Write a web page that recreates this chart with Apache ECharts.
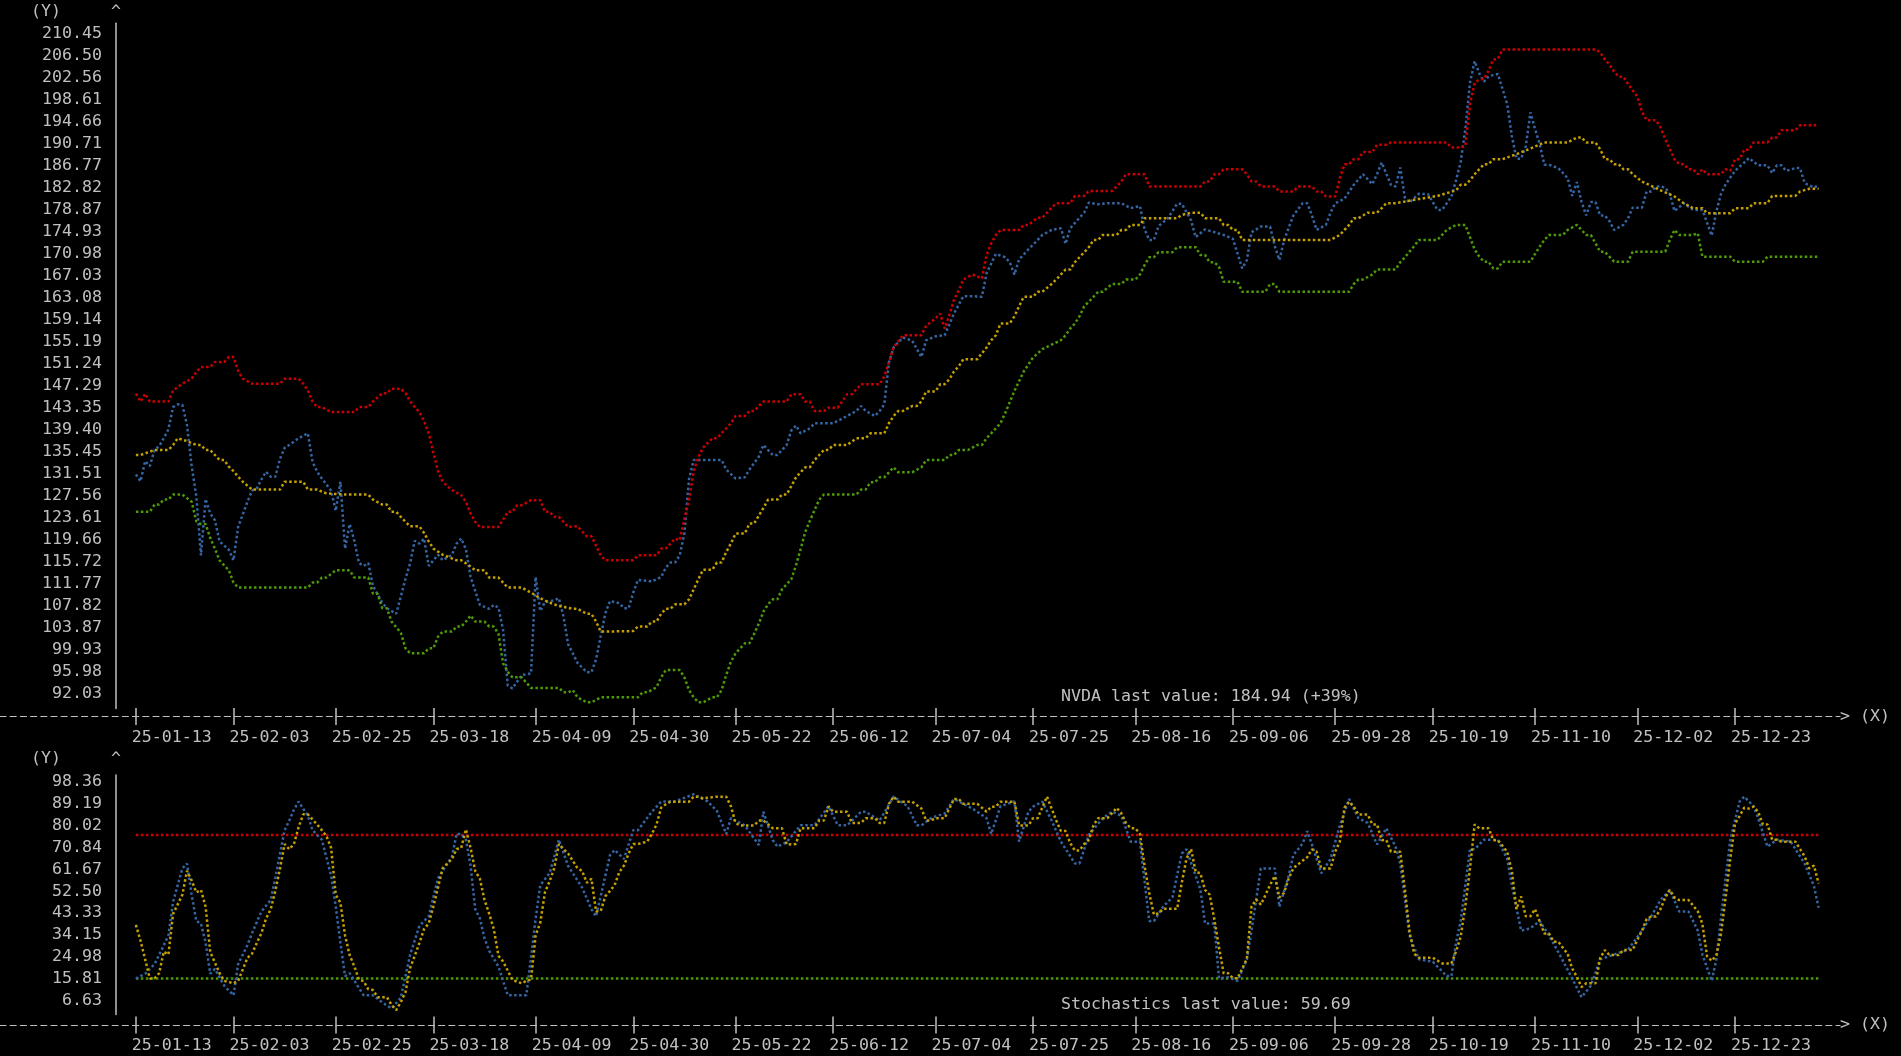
<!DOCTYPE html>
<html>
<head>
<meta charset="utf-8">
<script src="https://cdn.jsdelivr.net/npm/echarts@6/dist/echarts.min.js"></script>
<style>
html,body{margin:0;padding:0;background:#000;}
#chart{width:1901px;height:1056px;}
</style>
</head>
<body>
<div id="chart"></div>
<script>
// ---------------- DATA ----------------
// x values are calendar days counted from START_DATE
const START_DATE = '2025-01-13';
const TICKER = 'NVDA';
const LAST_PRICE = 184.94;
const PCT_CHANGE = 39;
const LAST_STOCH = 59.69;

const xTickLabels = ['25-01-13','25-02-03','25-02-25','25-03-18','25-04-09','25-04-30','25-05-22','25-06-12','25-07-04','25-07-25','25-08-16','25-09-06','25-09-28','25-10-19','25-11-10','25-12-02','25-12-23'];
const yTicksPrice = [210.45,206.50,202.56,198.61,194.66,190.71,186.77,182.82,178.87,174.93,170.98,167.03,163.08,159.14,155.19,151.24,147.29,143.35,139.40,135.45,131.51,127.56,123.61,119.66,115.72,111.77,107.82,103.87,99.93,95.98,92.03];
const yTicksStoch = [98.36,89.19,80.02,70.84,61.67,52.50,43.33,34.15,24.98,15.81,6.63];

const price = [[0,133.0],[1,131.8],[2,135.4],[3,134.5],[4,137.4],[5,138.1],[6,139.5],[7,141.1],[8,145.1],[9,145.6],[10,145.5],[11,141.9],[12,134.5],[13,129.1],[14,118.5],[15,128.6],[16,126.0],[17,124.8],[18,121.0],[20,119.5],[21,117.6],[22,123.6],[24,128.1],[25,130.1],[26,130.5],[27,132.1],[28,133.5],[29,132.6],[30,132.6],[31,135.8],[32,137.8],[33,138.3],[35,139.5],[37,140.4],[38,135.3],[39,133.5],[40,132.3],[42,130.1],[43,126.5],[44,131.7],[45,119.7],[46,124.1],[47,121.1],[48,117.1],[49,116.6],[50,117.1],[51,113.0],[52,111.5],[53,110.0],[54,109.0],[56,108.0],[57,111.1],[58,114.3],[59,117.1],[60,121.1],[61,120.6],[62,121.5],[63,116.6],[64,117.6],[65,118.6],[66,117.6],[68,118.6],[69,120.6],[70,121.5],[71,119.6],[72,114.6],[73,112.1],[74,109.6],[76,108.9],[77,109.6],[78,109.1],[79,105.1],[80,95.1],[81,94.6],[83,97.0],[85,97.3],[86,114.6],[87,108.5],[88,110.1],[90,110.4],[91,110.8],[92,107.5],[93,102.5],[94,100.9],[95,99.2],[97,97.5],[98,97.5],[99,99.8],[100,104.0],[101,108.1],[102,110.3],[104,109.9],[105,109.0],[106,109.0],[107,111.8],[108,114.1],[111,113.8],[113,114.6],[114,116.3],[115,117.2],[116,117.2],[117,118.5],[118,122.4],[119,132.2],[120,135.6],[123,135.6],[126,135.6],[127,133.9],[129,132.3],[131,132.5],[132,133.9],[134,136.2],[135,138.3],[137,136.5],[138,136.5],[140,138.3],[141,140.9],[142,141.8],[143,140.4],[145,141.3],[146,142.2],[148,142.2],[150,142.2],[153,143.5],[155,144.4],[156,145.3],[157,144.4],[159,143.5],[160,144.4],[161,145.6],[162,153.1],[163,155.8],[165,157.6],[167,157.0],[169,154.1],[170,157.1],[172,157.8],[174,158.0],[176,161.9],[178,165.0],[180,165.0],[182,164.9],[183,169.1],[185,172.6],[187,172.0],[188,171.1],[189,168.9],[190,171.6],[192,173.4],[194,175.1],[195,176.0],[197,176.9],[199,177.2],[200,174.4],[201,177.2],[203,179.1],[204,180.0],[205,181.8],[207,181.5],[209,181.7],[212,181.7],[214,180.8],[216,181.2],[217,177.0],[218,175.1],[219,175.1],[220,177.6],[222,179.0],[224,181.6],[225,181.6],[227,178.6],[228,175.6],[230,177.0],[232,176.5],[234,176.0],[236,175.3],[238,170.0],[239,171.5],[240,176.5],[242,177.5],[244,177.5],[245,174.0],[246,171.5],[247,175.0],[248,177.3],[249,179.5],[251,181.7],[252,181.7],[253,179.5],[254,176.9],[256,177.8],[257,180.0],[258,181.7],[260,182.5],[262,185.0],[264,186.9],[266,185.1],[267,186.9],[268,189.0],[270,185.0],[271,184.7],[272,188.1],[273,182.6],[274,181.8],[276,183.4],[278,183.3],[280,180.5],[281,180.5],[283,182.9],[284,185.8],[285,189.1],[286,195.0],[287,203.3],[288,207.2],[289,205.0],[290,203.5],[291,204.5],[293,204.9],[295,199.5],[296,193.8],[297,189.7],[298,189.7],[299,191.9],[300,198.0],[301,195.0],[302,192.3],[303,188.6],[304,188.6],[306,188.0],[308,186.2],[309,183.0],[310,185.5],[311,181.9],[312,179.5],[313,181.9],[314,181.9],[315,179.5],[316,179.5],[317,178.5],[318,176.9],[320,177.8],[321,179.0],[322,180.9],[324,180.9],[325,183.8],[326,183.8],[327,184.7],[328,184.7],[329,184.5],[330,183.3],[331,180.3],[333,181.7],[335,180.5],[337,180.5],[339,175.9],[340,180.2],[341,183.4],[342,185.1],[344,187.5],[346,189.0],[347,189.8],[349,188.5],[351,188.5],[352,187.1],[353,188.5],[354,188.5],[355,187.5],[357,188.0],[358,188.0],[359,185.3],[361,184.5],[362,184.94]];

const upperBand = [[0,147.5],[1,146.1],[2,147.5],[3,146.1],[7,146.1],[8,148.1],[10,149.3],[12,150.2],[13,151.4],[14,152.3],[16,152.3],[17,153.2],[19,153.2],[20,154.1],[21,154.1],[22,151.6],[23,150.2],[25,149.3],[31,149.3],[32,150.2],[35,150.2],[36,149.3],[37,148.1],[38,146.1],[39,145.1],[40,145.1],[42,144.2],[47,144.2],[48,145.1],[50,145.1],[51,146.1],[53,147.6],[54,147.6],[55,148.4],[57,148.4],[58,147.6],[59,146.1],[60,145.1],[61,144.2],[62,142.6],[63,140.4],[64,136.9],[65,133.6],[66,131.7],[68,130.2],[70,129.3],[71,128.1],[72,126.1],[73,124.5],[74,123.6],[78,123.6],[79,124.9],[80,126.3],[81,126.3],[82,127.5],[83,127.5],[85,128.4],[87,128.4],[88,126.3],[89,126.3],[90,125.4],[91,125.4],[92,124.5],[93,123.6],[95,123.7],[97,121.9],[98,121.9],[99,120.2],[100,118.5],[101,117.6],[107,117.6],[108,118.5],[112,118.5],[113,119.7],[114,119.7],[115,120.6],[116,121.5],[117,121.2],[118,125.0],[119,128.4],[120,133.6],[121,136.1],[122,137.8],[124,139.5],[125,139.5],[126,140.4],[127,141.3],[128,142.2],[129,143.5],[131,143.5],[132,144.4],[133,144.4],[134,145.3],[135,146.1],[140,146.1],[141,147.4],[143,147.4],[144,146.1],[145,146.1],[146,144.4],[148,144.4],[149,145.0],[151,145.0],[153,147.4],[154,147.4],[155,148.3],[156,149.2],[160,149.2],[161,150.6],[162,153.1],[163,155.8],[165,158.0],[169,158.0],[170,159.7],[172,161.0],[173,161.9],[174,159.2],[175,161.6],[176,164.4],[177,166.0],[178,168.0],[180,168.9],[182,168.2],[183,172.4],[184,174.5],[185,176.0],[186,176.9],[190,176.9],[191,177.8],[192,177.8],[194,179.1],[195,179.1],[196,180.0],[197,180.9],[198,181.7],[201,181.7],[202,183.0],[204,183.0],[205,183.9],[210,183.9],[211,184.7],[212,185.6],[213,186.9],[217,186.9],[218,184.7],[229,184.7],[230,185.6],[231,185.6],[232,186.9],[233,186.9],[234,187.8],[238,187.8],[239,186.9],[240,185.6],[241,185.6],[242,184.7],[245,184.7],[246,183.8],[249,183.8],[250,184.7],[253,184.7],[254,183.8],[255,183.8],[256,182.9],[258,182.9],[259,186.2],[260,188.7],[261,188.7],[262,189.6],[263,189.6],[264,190.9],[266,190.9],[267,192.2],[269,192.2],[270,192.6],[282,192.6],[283,191.7],[285,191.7],[286,192.0],[287,199.5],[288,203.3],[289,203.9],[290,204.0],[291,205.5],[292,207.5],[293,207.6],[294,209.3],[314,209.3],[315,208.8],[316,207.5],[317,206.6],[318,205.3],[319,204.4],[320,204.4],[321,203.1],[323,200.8],[324,198.1],[325,196.6],[327,196.6],[328,195.3],[329,193.2],[330,191.4],[331,189.6],[332,188.7],[333,188.7],[334,187.8],[335,187.8],[336,186.9],[337,187.8],[338,186.9],[341,186.9],[342,187.8],[343,187.5],[344,189.6],[345,189.6],[346,191.3],[347,191.3],[348,192.6],[351,192.6],[352,193.5],[353,193.5],[354,194.8],[357,194.8],[358,195.7],[362,195.7]];

const middleBand = [[0,136.5],[1,136.5],[4,137.4],[7,137.4],[8,138.3],[9,139.5],[11,139.0],[13,138.3],[14,138.3],[15,137.4],[16,137.4],[17,136.5],[18,135.6],[19,135.6],[20,134.4],[21,133.6],[22,132.6],[23,131.7],[25,130.3],[31,130.3],[32,131.7],[36,131.7],[37,130.3],[39,130.3],[41,129.6],[45,129.4],[50,129.4],[51,128.5],[53,127.6],[54,127.6],[55,126.3],[56,126.3],[57,125.4],[58,124.5],[59,123.7],[61,123.7],[62,122.5],[63,121.0],[64,119.7],[66,118.6],[69,117.6],[70,117.6],[72,116.5],[73,115.8],[75,115.8],[76,114.5],[78,114.5],[79,113.6],[80,112.7],[83,112.7],[85,111.8],[87,110.8],[89,110.0],[91,109.4],[94,108.9],[95,108.9],[97,108.0],[98,108.0],[99,106.6],[100,104.8],[107,104.9],[108,105.7],[110,105.7],[111,106.6],[112,106.6],[113,108.0],[114,108.9],[115,108.9],[116,109.7],[118,109.7],[119,110.6],[120,112.4],[121,114.2],[122,115.9],[124,115.9],[125,117.2],[126,117.2],[127,119.1],[128,120.6],[129,122.4],[131,122.4],[132,124.2],[133,124.2],[134,125.6],[135,127.0],[136,128.5],[138,128.5],[139,129.4],[140,129.4],[141,130.9],[142,132.5],[143,133.4],[144,134.3],[145,134.3],[146,135.6],[147,136.5],[148,137.4],[149,137.4],[150,138.3],[153,138.3],[155,139.5],[157,139.5],[158,140.4],[161,140.4],[162,142.2],[163,143.5],[164,144.4],[165,144.4],[167,145.3],[168,145.3],[169,146.1],[170,147.9],[172,147.9],[173,149.2],[174,149.2],[175,150.1],[176,151.5],[177,152.4],[178,153.7],[181,153.7],[183,155.8],[184,157.1],[185,158.0],[186,160.1],[188,160.1],[189,161.4],[190,163.2],[191,164.9],[193,164.9],[194,165.8],[195,165.8],[197,167.2],[198,168.0],[199,168.9],[200,169.8],[201,169.8],[202,171.1],[203,172.0],[204,172.9],[205,173.8],[206,175.1],[207,175.1],[208,176.0],[211,176.0],[212,176.9],[213,176.9],[214,177.8],[216,177.8],[217,179.0],[224,179.0],[225,179.6],[227,180.0],[229,180.0],[230,179.0],[233,179.0],[234,177.8],[235,177.8],[236,176.9],[237,176.9],[238,175.1],[257,175.1],[259,176.0],[260,176.9],[261,177.8],[262,179.0],[263,179.0],[265,180.0],[267,180.0],[268,180.8],[269,181.7],[271,181.7],[275,182.3],[280,183.0],[284,184.0],[285,185.0],[286,185.0],[287,185.8],[288,186.9],[289,187.8],[290,188.7],[291,188.7],[292,189.6],[294,189.6],[297,190.5],[300,191.5],[303,192.6],[308,192.6],[310,193.5],[311,193.5],[312,192.6],[314,192.6],[315,191.4],[316,189.6],[317,189.6],[318,188.7],[319,188.7],[320,187.8],[321,187.8],[322,186.9],[324,185.6],[326,184.8],[328,184.0],[330,183.3],[331,182.9],[333,181.7],[335,180.8],[337,180.8],[338,179.9],[343,179.9],[344,180.8],[347,180.8],[348,181.7],[351,181.7],[352,183.0],[357,183.0],[358,183.8],[360,184.3],[362,184.3]];

const lowerBand = [[0,126.3],[3,126.3],[4,127.6],[5,127.6],[6,128.5],[7,128.5],[8,129.4],[10,129.4],[12,128.1],[13,124.6],[14,124.1],[15,124.1],[16,121.6],[17,119.7],[18,117.6],[19,116.7],[20,115.8],[21,113.6],[22,112.7],[37,112.7],[38,113.6],[39,113.6],[40,114.5],[41,114.5],[43,115.8],[46,115.8],[47,114.5],[50,114.5],[51,111.6],[52,111.6],[53,109.0],[54,109.0],[55,106.6],[57,104.6],[58,101.8],[59,100.9],[62,100.9],[63,101.8],[64,101.8],[65,103.9],[66,104.8],[68,104.8],[69,105.7],[70,105.7],[71,106.6],[72,107.7],[73,106.6],[75,106.6],[76,105.7],[77,105.7],[78,104.4],[79,99.1],[80,97.6],[81,96.6],[83,96.6],[85,94.7],[91,94.7],[92,93.9],[93,93.9],[94,94.3],[95,93.0],[97,92.1],[98,92.1],[100,93.0],[108,93.0],[109,93.9],[110,93.9],[112,94.8],[113,96.6],[114,97.9],[117,97.9],[118,96.6],[119,94.3],[120,93.0],[121,92.1],[122,92.1],[124,93.0],[125,93.0],[126,94.3],[127,97.0],[128,99.4],[129,100.9],[130,101.8],[131,102.7],[132,102.7],[133,104.4],[134,106.2],[135,108.4],[136,109.7],[137,110.6],[138,110.6],[139,112.4],[141,114.2],[142,116.7],[143,119.6],[144,122.7],[145,124.7],[146,126.6],[147,128.5],[148,129.4],[155,129.4],[156,130.3],[157,130.3],[158,131.6],[159,131.6],[160,132.5],[161,132.5],[162,133.4],[163,134.3],[164,133.4],[167,133.4],[169,134.3],[170,135.6],[174,135.6],[175,136.5],[176,136.5],[177,137.4],[179,137.4],[181,138.3],[182,138.3],[183,139.5],[184,140.4],[185,141.3],[186,142.2],[187,144.0],[189,148.0],[191,151.5],[193,154.0],[195,155.5],[197,156.3],[199,157.1],[200,158.0],[201,159.2],[202,160.1],[203,161.4],[204,163.2],[205,164.0],[206,164.9],[207,165.8],[208,165.8],[210,167.2],[212,167.2],[213,168.0],[215,168.0],[216,168.9],[217,170.6],[218,172.0],[219,172.0],[220,172.9],[223,172.9],[224,173.8],[228,173.8],[229,172.4],[230,172.4],[231,171.1],[232,171.1],[233,170.3],[234,167.6],[237,167.6],[238,165.8],[243,165.8],[244,167.2],[245,167.2],[246,165.8],[261,165.8],[262,167.2],[263,168.0],[264,168.0],[266,168.9],[267,169.8],[271,169.8],[272,171.1],[273,172.0],[274,173.0],[275,174.0],[276,175.1],[280,175.1],[281,176.0],[282,176.9],[284,177.8],[286,177.8],[287,175.6],[288,173.4],[289,172.1],[290,171.2],[291,171.2],[292,170.0],[293,170.0],[294,171.2],[300,171.2],[301,172.6],[302,173.9],[303,175.1],[304,176.0],[307,176.0],[308,176.9],[310,177.8],[311,176.9],[312,176.0],[313,176.0],[314,174.5],[315,173.0],[316,173.0],[317,172.1],[318,171.2],[321,171.2],[322,173.0],[329,173.0],[330,175.1],[331,176.9],[332,176.0],[335,176.0],[336,176.3],[337,172.1],[343,172.1],[344,171.2],[350,171.2],[351,172.1],[362,172.1]];

const stochK = [[0,20],[2,22],[4,26],[5,29.8],[7,38],[8,52],[10,66],[11,68],[12,55],[13,44],[14,43],[15,35],[16,22],[17,24],[19,17],[21,13],[22,26],[24,34],[25,39],[27,48],[29,52.8],[30,62],[31,72],[32,82],[33,86],[34,90.5],[35,93.9],[37,88],[38,82],[40,78],[42,63],[43,50],[44,35],[45,21],[46,22.2],[48,16],[49,13],[51,13],[53,10],[55,7.5],[57,12],[59,30],[61,42],[63,46],[65,61.9],[68,71],[69,80.4],[70,80.4],[71,78],[72,67.2],[73,49],[74,45.2],[75,36.8],[76,31.6],[78,25],[80,13],[82,13],[84,13],[85,29],[86,45],[87,59],[89,64],[91,78],[93,67],[96,58],[98,49],[99,46],[101,63],[102,71.6],[103,73.7],[105,70],[107,82],[108,82],[111,89.7],[113,93.9],[116,94],[120,97],[123,94],[125,90],[127,80.4],[128,87],[131,84],[134,75.8],[135,89.7],[137,77.9],[138,75.1],[140,77],[143,84],[146,84],[149,92],[151,84],[153,84],[156,89.7],[157,89.7],[160,86],[163,96],[166,92],[168,84],[169,84],[171,87],[174,89],[176,95],[180,91],[183,87],[184,80.4],[186,92],[189,94],[190,77.2],[192,89.7],[193,91.8],[195,93.9],[197,86],[199,77.2],[202,68.1],[203,68.1],[205,80],[208,87],[210,89.7],[212,88],[214,77.2],[216,77.2],[218,44],[219,44],[221,50],[223,54],[225,72.2],[226,74],[229,57.2],[230,43],[232,43],[233,20.1],[235,20.5],[237,19],[239,28],[240,40],[242,66],[245,66],[246,50],[248,63],[249,71.6],[251,76.4],[252,81.6],[253,76],[255,64],[257,70],[259,84],[261,95],[263,87],[265,85],[267,76],[269,82.8],[271,75],[272,68],[274,38],[276,28],[279,27],[282,21],[283,21],[284,35],[285,44],[287,74],[288,74],[290,78],[293,78],[295,70],[296,59],[298,40],[300,41],[302,44],[304,38],[306,31],[309,20],[311,12.2],[313,17],[315,28],[318,30],[321,32],[324,40],[326,46],[328,52.8],[330,57],[332,48],[334,48],[336,40],[337,30],[339,19],[340,28],[341,45.4],[342,62],[343,78],[345,93.9],[346,96],[348,92],[349,87],[351,75.1],[353,78],[356,77.2],[359,68],[361,58.6],[362,49.6]];

const stochD = [[0,42.4],[1,35.8],[2,28],[3,20],[4,20],[5,22.2],[6,31.2],[7,30],[8,47],[10,55],[11,65],[12,61],[13,56],[14,57],[15,50],[16,31],[17,26.7],[18,22.2],[19,19],[21,18],[22,19],[24,28.6],[25,30.4],[26,34.8],[27,38.9],[28,45],[29,48.9],[30,56.6],[31,65.9],[32,76.2],[33,74],[34,76.2],[35,83.2],[36,88.6],[37,88.6],[39,84.3],[40,82],[41,79.5],[42,74.6],[43,55],[44,51.7],[45,38],[46,29.7],[47,25],[48,19.5],[49,18.9],[50,15.5],[51,15.2],[52,12.2],[54,12.2],[55,9],[56,6.8],[57,10.2],[58,14.3],[59,24.5],[60,29.5],[61,34.9],[62,40.7],[63,43],[64,50.1],[65,58.1],[66,66.1],[68,69.9],[69,74.1],[70,74.6],[71,82.3],[72,74.6],[73,65],[74,61.7],[75,52.8],[76,47.1],[77,40.7],[78,29.5],[79,27.1],[81,19.4],[83,18],[84,19],[85,19.6],[86,38],[87,43.4],[88,56],[89,60.6],[90,66.1],[91,76.2],[92,74.1],[93,72.2],[95,66.1],[96,65],[97,60],[98,61.7],[99,48],[100,48.2],[101,54.4],[102,56.6],[103,59.1],[104,64.5],[105,67.2],[106,72.2],[107,76.2],[108,76.2],[110,77.2],[111,80.5],[112,84.3],[113,91.4],[114,92.8],[115,93.9],[119,93.9],[120,96],[121,96],[122,95.3],[125,96],[127,96],[128,92],[129,85],[130,83.9],[133,83.9],[134,86],[135,86],[137,82.8],[139,82.8],[140,76],[142,76.2],[143,82.8],[146,82.8],[147,86],[148,86],[149,91.9],[150,89.7],[153,89.7],[154,85],[156,85],[157,87],[159,87],[160,85],[161,85],[162,93],[163,96],[164,93.9],[167,93.9],[169,91],[170,86],[171,86],[172,87],[174,87],[175,91],[176,95],[177,95],[178,93],[181,93],[183,89.7],[184,91.8],[185,91.8],[186,93.9],[189,93.9],[190,84],[192,83.9],[193,87],[194,87],[196,96],[197,91],[198,86],[199,81.6],[200,81.6],[201,76.6],[202,73.5],[203,73.5],[204,76.2],[205,77.9],[206,84],[207,87],[209,87],[211,91.3],[212,89],[213,85],[214,82.8],[215,82.8],[216,80.4],[217,67],[218,55.8],[219,46.7],[220,47.2],[221,49.1],[224,49.1],[225,60],[226,70],[227,74.1],[228,64.5],[229,64],[230,57],[231,55],[232,44.8],[233,33.2],[234,22.2],[235,22.2],[236,20.1],[237,20.1],[239,28.2],[240,50],[241,53],[242,50.9],[243,54.9],[244,59.1],[245,62.8],[246,53.9],[247,55.8],[248,61.7],[249,66.1],[250,67.7],[252,70.7],[253,74],[254,73],[255,66],[257,66],[258,73],[259,77.2],[260,91.4],[261,93.9],[262,91.8],[263,88.5],[265,88.5],[266,84.4],[267,84.4],[268,77.8],[269,77.9],[270,73],[272,73],[273,57],[274,39.5],[275,30.3],[276,28.7],[279,28.7],[281,26.3],[283,26.3],[284,31.3],[285,37.5],[286,50.3],[287,66],[288,84.4],[289,82.8],[291,82.8],[292,77.8],[293,77.8],[295,73],[296,65],[297,49],[298,54.3],[299,46],[300,46],[301,49],[302,43.8],[303,38.8],[304,38.8],[305,35.4],[306,35.4],[308,30.3],[309,24.1],[310,20.7],[311,16.4],[312,18],[314,18],[315,28.5],[316,31.9],[317,29.8],[319,29.8],[320,31.9],[322,31.9],[323,36.2],[324,39.9],[325,44.9],[326,45.9],[327,45.9],[328,49.1],[329,53.8],[330,57],[331,53.8],[332,52.8],[334,52.8],[336,48.1],[337,42.8],[338,29.3],[339,27.4],[340,29.7],[341,38.7],[342,54],[343,70],[344,84.6],[345,87.9],[346,91.4],[347,91],[348,91.8],[349,89.7],[350,84.4],[351,84.4],[352,78],[353,78],[354,77.2],[357,77.2],[358,74.1],[359,71],[360,66],[361,67.2],[362,59.69]];

const stochLevels = [80, 20];           // overbought / oversold
const stochLevelSpan = [0, 362];        // days covered by the level lines

// ---------------- CHART ----------------
const DAY = 86400000;
const T0 = Date.parse(START_DATE + 'T00:00:00Z');
const toTime = d => T0 + d * DAY;
const X_MIN = T0 - 29.23 * DAY, X_MAX = T0 + 366.6 * DAY;
const xTickTimes = xTickLabels.map(s => {
  const p = s.split('-').map(Number);
  return Date.UTC(2000 + p[0], p[1] - 1, p[2]);
});
const xLabelOf = v => {
  for (let i = 0; i < xTickTimes.length; i++) if (Math.abs(xTickTimes[i] - v) < 1000) return xTickLabels[i];
  return '';
};

const FONT = 'DejaVu Sans Mono';
const FS = 16.6;
const TXT = '#c0c0c0';
const C_RED = '#cc0000', C_YEL = '#c4a000', C_GRN = '#4e9a06', C_BLU = '#3465a4';

function dotted(name, pairs, color, gi) {
  return {
    type: 'line', name, xAxisIndex: gi, yAxisIndex: gi,
    data: pairs.map(p => [toTime(p[0]), p[1]]),
    showSymbol: false, symbol: 'none', silent: true,
    lineStyle: { color, width: 2.5, type: [2.5, 2.5], cap: 'butt' },
    emphasis: { disabled: true }
  };
}

// main x axis: dashed line, downward half of the "|" ticks, date labels, "> (X)"
function xAxisFor(gi, offset) {
  return {
    type: 'value', gridIndex: gi, position: 'bottom', scale: true, min: X_MIN, max: X_MAX, offset,
    axisLine: { show: true, onZero: false, lineStyle: { color: TXT, width: 1.2, type: [6, 4.2] } },
    axisTick: { show: true, inside: false, length: 8.5, customValues: xTickTimes, lineStyle: { color: TXT, width: 1.5 } },
    axisLabel: { customValues: xTickTimes, formatter: v => xLabelOf(v), align: 'left', margin: 12.5,
      padding: [0, 0, 0, -4], fontFamily: FONT, fontSize: FS, color: TXT, hideOverlap: false },
    splitLine: { show: false },
    name: '> (X)', nameLocation: 'end', nameGap: 0,
    nameTextStyle: { fontFamily: FONT, fontSize: FS, color: TXT, align: 'left', verticalAlign: 'middle' }
  };
}
// companion axis (same position) carrying only the upward half of the "|" ticks
function xTickAxisFor(gi, offset) {
  return {
    type: 'value', gridIndex: gi, position: 'bottom', scale: true, min: X_MIN, max: X_MAX, offset,
    axisLine: { show: false, onZero: false },
    axisTick: { show: true, inside: true, length: 8.5, customValues: xTickTimes, lineStyle: { color: TXT, width: 1.5 } },
    axisLabel: { show: false },
    splitLine: { show: false }
  };
}

function yAxisFor(gi, min, max, ticks, nameGap) {
  return {
    type: 'value', gridIndex: gi, position: 'left', offset: -116,
    min, max,
    axisLine: { show: true, onZero: false, lineStyle: { color: TXT, width: 1.5 } },
    axisTick: { show: false },
    splitLine: { show: false },
    axisLabel: { customValues: ticks, formatter: v => v.toFixed(2), margin: 14,
      verticalAlign: 'bottom', padding: [0, 0, 1, 0], fontFamily: FONT, fontSize: FS, color: TXT },
    name: '(Y)     ^', nameLocation: 'end', nameGap,
    nameTextStyle: { fontFamily: FONT, fontSize: FS, color: TXT, align: 'right', verticalAlign: 'middle', padding: [0, -5, 0, 0] }
  };
}

const chart = echarts.init(document.getElementById('chart'), null, { renderer: 'canvas' });
chart.setOption({
  backgroundColor: '#000000',
  animation: false,
  title: [
    { text: TICKER + ' last value: ' + LAST_PRICE.toFixed(2) + ' (+' + PCT_CHANGE + '%)', left: 1061, top: 688, padding: 0,
      textStyle: { fontFamily: FONT, fontSize: FS, fontWeight: 'normal', color: TXT } },
    { text: 'Stochastics last value: ' + LAST_STOCH.toFixed(2), left: 1061, top: 996, padding: 0,
      textStyle: { fontFamily: FONT, fontSize: FS, fontWeight: 'normal', color: TXT } }
  ],
  grid: [
    { left: 0, right: 61, top: 23.25, height: 685.25, containLabel: false, outerBoundsMode: 'none' },
    { left: 0, right: 61, top: 775.1, height: 239.3, containLabel: false, outerBoundsMode: 'none' }
  ],
  xAxis: [xAxisFor(0, 8.0), xAxisFor(1, 10.5), xTickAxisFor(0, 8.0), xTickAxisFor(1, 10.5)],
  yAxis: [yAxisFor(0, 91, 214, yTicksPrice, 12), yAxisFor(1, 5, 105, yTicksStoch, 16)],
  series: [
    dotted('Price', price, C_BLU, 0),
    dotted('Upper band', upperBand, C_RED, 0),
    dotted('Middle band', middleBand, C_YEL, 0),
    dotted('Lower band', lowerBand, C_GRN, 0),
    dotted('Overbought', stochLevelSpan.map(d => [d, stochLevels[0]]), C_RED, 1),
    dotted('Oversold', stochLevelSpan.map(d => [d, stochLevels[1]]), C_GRN, 1),
    dotted('%K', stochK, C_BLU, 1),
    dotted('%D', stochD, C_YEL, 1)
  ]
});
</script>
</body>
</html>
